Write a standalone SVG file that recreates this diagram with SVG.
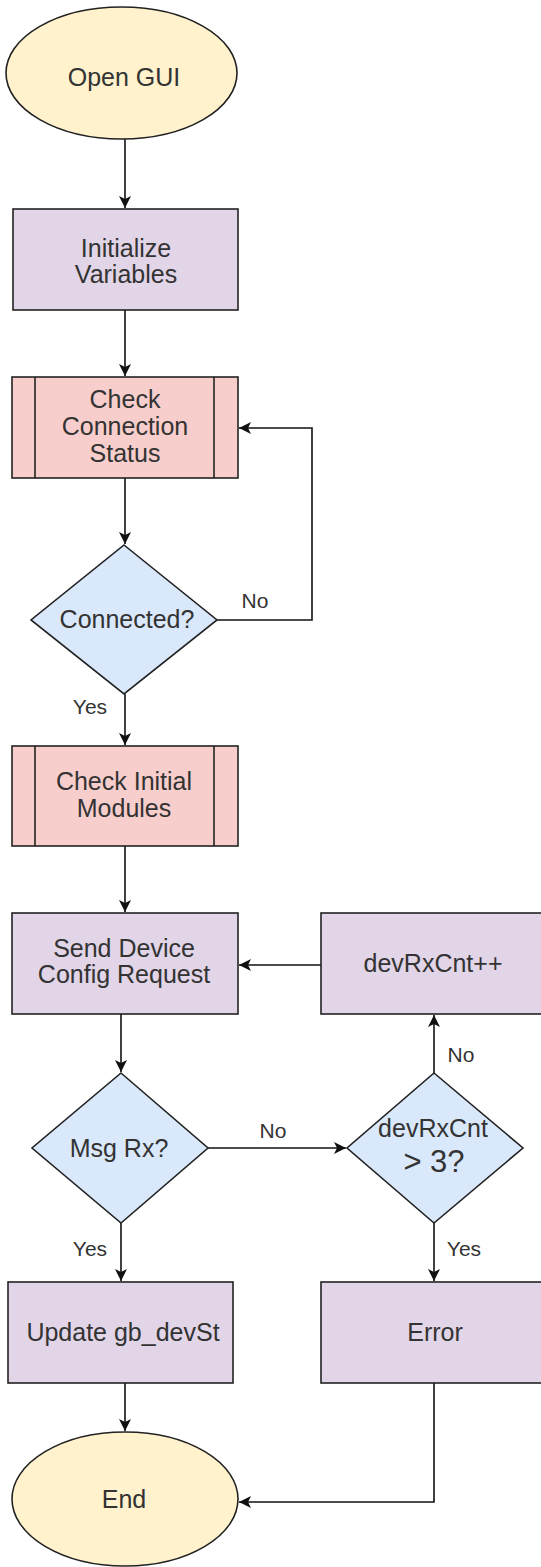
<svg xmlns="http://www.w3.org/2000/svg" width="541" height="1567" viewBox="0 0 541 1567">
<style>
  .t{font-family:"Liberation Sans",Arial,sans-serif;font-size:25px;fill:#333;text-anchor:middle}
  .lbl{font-family:"Liberation Sans",Arial,sans-serif;font-size:21px;fill:#333;text-anchor:middle}
  .term{fill:#fff2cc;stroke:#222;stroke-width:1.6}
  .proc{fill:#e1d5e7;stroke:#222;stroke-width:1.6}
  .sub{fill:#f8cecc;stroke:#222;stroke-width:1.6}
  .dec{fill:#dae8fc;stroke:#222;stroke-width:1.6}
  .c{fill:none;stroke:#111;stroke-width:1.6;marker-end:url(#ah)}
</style>
<defs>
  <marker id="ah" markerUnits="userSpaceOnUse" markerWidth="14" markerHeight="14" refX="12" refY="6" orient="auto">
    <path d="M0,0 L12,6 L0,12 L3,6 z" fill="#111"/>
  </marker>
</defs>
<rect width="541" height="1567" fill="#fff"/>
<g id="connectors">
  <path class="c" d="M125,139 L125,208"/>
  <path class="c" d="M125,310 L125,376"/>
  <path class="c" d="M125,478 L125,544"/>
  <path class="c" d="M217,620 L312,620 L312,428 L239,428"/>
  <path class="c" d="M125,694 L125,745"/>
  <path class="c" d="M125,846 L125,912"/>
  <path class="c" d="M121,1014 L121,1072"/>
  <path class="c" d="M208,1148 L346,1148"/>
  <path class="c" d="M434,1073 L434,1015"/>
  <path class="c" d="M321,965 L239,965"/>
  <path class="c" d="M434,1223 L434,1281"/>
  <path class="c" d="M121,1223 L121,1281"/>
  <path class="c" d="M125,1383 L125,1431"/>
  <path class="c" d="M434,1383 L434,1502 L239,1502"/>
  <text class="lbl" x="255" y="608">No</text>
  <text class="lbl" x="90" y="714">Yes</text>
  <text class="lbl" x="461" y="1062">No</text>
  <text class="lbl" x="273" y="1138">No</text>
  <text class="lbl" x="90" y="1256">Yes</text>
  <text class="lbl" x="464" y="1256">Yes</text>
</g>
<g id="open-gui">
  <ellipse class="term" cx="121.5" cy="73" rx="115.5" ry="66"/>
  <text class="t" x="124" y="86">Open GUI</text>
</g>
<g id="initialize">
  <rect class="proc" x="13" y="209" width="225" height="101"/>
  <text class="t" x="126" y="257">Initialize</text>
  <text class="t" x="126" y="283">Variables</text>
</g>
<g id="check-connection">
  <rect class="sub" x="12" y="377" width="226" height="101"/>
  <line class="sub" x1="35" y1="377" x2="35" y2="478"/>
  <line class="sub" x1="214" y1="377" x2="214" y2="478"/>
  <text class="t" x="125" y="408">Check</text>
  <text class="t" x="125" y="435">Connection</text>
  <text class="t" x="125" y="462">Status</text>
</g>
<g id="connected">
  <polygon class="dec" points="124,545 217,620 124,694 31,620"/>
  <text class="t" x="127" y="628">Connected?</text>
</g>
<g id="check-initial">
  <rect class="sub" x="12" y="746" width="226" height="100"/>
  <line class="sub" x1="35" y1="746" x2="35" y2="846"/>
  <line class="sub" x1="214" y1="746" x2="214" y2="846"/>
  <text class="t" x="124" y="790">Check Initial</text>
  <text class="t" x="124" y="817">Modules</text>
</g>
<g id="send-config">
  <rect class="proc" x="12" y="913" width="226" height="101"/>
  <text class="t" x="124" y="957">Send Device</text>
  <text class="t" x="124" y="983">Config Request</text>
</g>
<g id="dev-rx-inc">
  <rect class="proc" x="321" y="913" width="225" height="101"/>
  <text class="t" x="433" y="972">devRxCnt++</text>
</g>
<g id="msg-rx">
  <polygon class="dec" points="121,1073 208,1148 121,1223 32,1148"/>
  <text class="t" x="119" y="1157">Msg Rx?</text>
</g>
<g id="dev-rx-check">
  <polygon class="dec" points="434,1073 523,1148 434,1223 347,1148"/>
  <text class="t" x="433" y="1137">devRxCnt</text>
  <text class="t" x="434" y="1172" style="font-size:31px">&gt; 3?</text>
</g>
<g id="update">
  <rect class="proc" x="8" y="1282" width="225" height="101"/>
  <text class="t" x="123" y="1341">Update gb_devSt</text>
</g>
<g id="error">
  <rect class="proc" x="321" y="1282" width="225" height="101"/>
  <text class="t" x="435" y="1341">Error</text>
</g>
<g id="end">
  <ellipse class="term" cx="125" cy="1499" rx="113" ry="67"/>
  <text class="t" x="124" y="1508">End</text>
</g>
</svg>
